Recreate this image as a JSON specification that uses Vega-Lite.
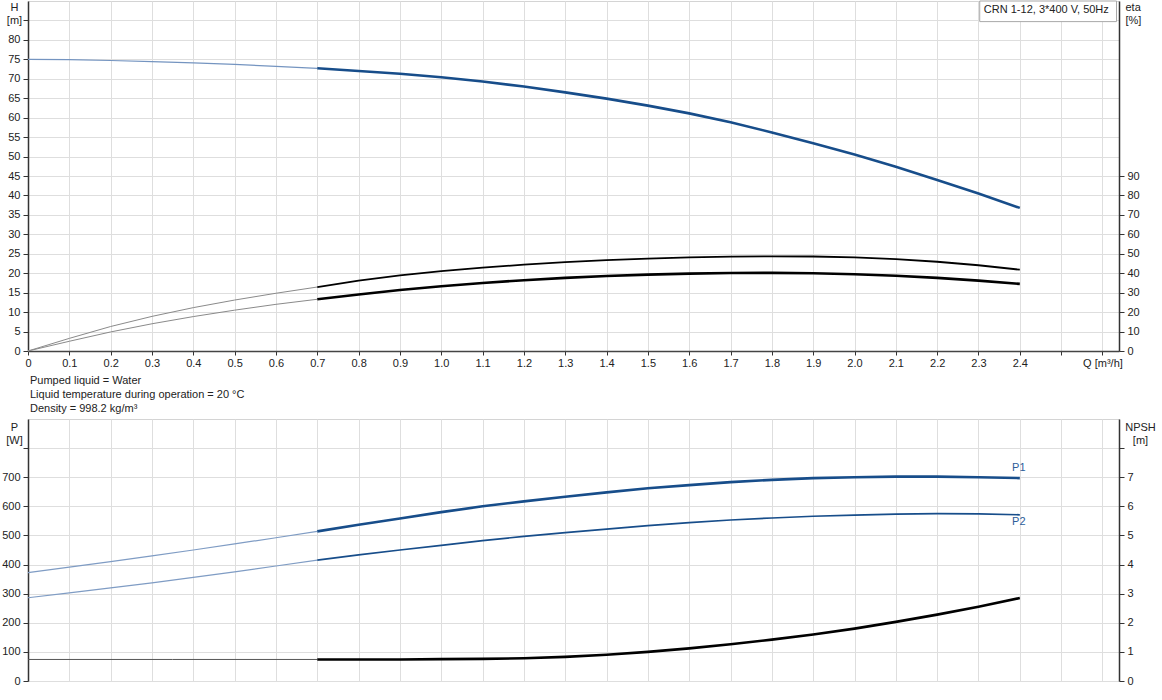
{
  "$schema": "https://vega.github.io/schema/vega-lite/v6.json",
  "padding": {"left": 1, "top": 0, "right": 0, "bottom": 0},
  "spacing": 68,
  "bounds": "flush",
  "config": {
    "font": "Liberation Sans",
    "view": {"stroke": "#d4d4d4"},
    "axis": {
      "labelFont": "Liberation Sans", "labelFontSize": 11, "labelColor": "#222",
      "titleFont": "Liberation Sans", "titleFontSize": 11, "titleFontWeight": "normal", "titleColor": "#222",
      "gridColor": "#dedede", "gridWidth": 1, "tickColor": "#333", "domainColor": "#333",
      "labelOverlap": false, "labelFlush": false
    },
    "text": {"font": "Liberation Sans", "fontWeight": "normal"},
    "title": {"font": "Liberation Sans"}
  },
  "data": {"values": [
    {"c":"H","p":"ext","q":0,"v":75.0},{"c":"H","p":"ext","q":0.1,"v":74.9},{"c":"H","p":"ext","q":0.2,"v":74.7},{"c":"H","p":"ext","q":0.3,"v":74.4},{"c":"H","p":"ext","q":0.4,"v":74.1},{"c":"H","p":"ext","q":0.5,"v":73.7},{"c":"H","p":"ext","q":0.6,"v":73.2},{"c":"H","p":"ext","q":0.7,"v":72.7},
    {"c":"H","p":"op","q":0.7,"v":72.7},{"c":"H","p":"op","q":0.8,"v":72.0},{"c":"H","p":"op","q":0.9,"v":71.3},{"c":"H","p":"op","q":1.0,"v":70.4},{"c":"H","p":"op","q":1.1,"v":69.3},{"c":"H","p":"op","q":1.2,"v":68.0},{"c":"H","p":"op","q":1.3,"v":66.5},{"c":"H","p":"op","q":1.4,"v":64.9},{"c":"H","p":"op","q":1.5,"v":63.1},{"c":"H","p":"op","q":1.6,"v":61.1},{"c":"H","p":"op","q":1.7,"v":58.8},{"c":"H","p":"op","q":1.8,"v":56.2},{"c":"H","p":"op","q":1.9,"v":53.4},{"c":"H","p":"op","q":2.0,"v":50.5},{"c":"H","p":"op","q":2.1,"v":47.4},{"c":"H","p":"op","q":2.2,"v":44.0},{"c":"H","p":"op","q":2.3,"v":40.5},{"c":"H","p":"op","q":2.4,"v":36.8},
    {"c":"eta1","p":"ext","q":0,"v":0},{"c":"eta1","p":"ext","q":0.1,"v":6.5},{"c":"eta1","p":"ext","q":0.2,"v":12.6},{"c":"eta1","p":"ext","q":0.3,"v":17.8},{"c":"eta1","p":"ext","q":0.4,"v":22.3},{"c":"eta1","p":"ext","q":0.5,"v":26.2},{"c":"eta1","p":"ext","q":0.6,"v":29.7},{"c":"eta1","p":"ext","q":0.7,"v":32.9},
    {"c":"eta1","p":"op","q":0.7,"v":32.9},{"c":"eta1","p":"op","q":0.8,"v":36.2},{"c":"eta1","p":"op","q":0.9,"v":38.9},{"c":"eta1","p":"op","q":1.0,"v":41.1},{"c":"eta1","p":"op","q":1.1,"v":42.9},{"c":"eta1","p":"op","q":1.2,"v":44.4},{"c":"eta1","p":"op","q":1.3,"v":45.7},{"c":"eta1","p":"op","q":1.4,"v":46.7},{"c":"eta1","p":"op","q":1.5,"v":47.5},{"c":"eta1","p":"op","q":1.6,"v":48.1},{"c":"eta1","p":"op","q":1.7,"v":48.5},{"c":"eta1","p":"op","q":1.8,"v":48.7},{"c":"eta1","p":"op","q":1.9,"v":48.6},{"c":"eta1","p":"op","q":2.0,"v":48.1},{"c":"eta1","p":"op","q":2.1,"v":47.2},{"c":"eta1","p":"op","q":2.2,"v":45.9},{"c":"eta1","p":"op","q":2.3,"v":44.1},{"c":"eta1","p":"op","q":2.4,"v":41.8},
    {"c":"eta2","p":"ext","q":0,"v":0},{"c":"eta2","p":"ext","q":0.1,"v":5.0},{"c":"eta2","p":"ext","q":0.2,"v":9.8},{"c":"eta2","p":"ext","q":0.3,"v":14.0},{"c":"eta2","p":"ext","q":0.4,"v":17.7},{"c":"eta2","p":"ext","q":0.5,"v":21.0},{"c":"eta2","p":"ext","q":0.6,"v":24.0},{"c":"eta2","p":"ext","q":0.7,"v":26.6},
    {"c":"eta2","p":"op","q":0.7,"v":26.6},{"c":"eta2","p":"op","q":0.8,"v":29.1},{"c":"eta2","p":"op","q":0.9,"v":31.4},{"c":"eta2","p":"op","q":1.0,"v":33.3},{"c":"eta2","p":"op","q":1.1,"v":35.0},{"c":"eta2","p":"op","q":1.2,"v":36.4},{"c":"eta2","p":"op","q":1.3,"v":37.6},{"c":"eta2","p":"op","q":1.4,"v":38.6},{"c":"eta2","p":"op","q":1.5,"v":39.3},{"c":"eta2","p":"op","q":1.6,"v":39.8},{"c":"eta2","p":"op","q":1.7,"v":40.1},{"c":"eta2","p":"op","q":1.8,"v":40.2},{"c":"eta2","p":"op","q":1.9,"v":40.0},{"c":"eta2","p":"op","q":2.0,"v":39.5},{"c":"eta2","p":"op","q":2.1,"v":38.7},{"c":"eta2","p":"op","q":2.2,"v":37.6},{"c":"eta2","p":"op","q":2.3,"v":36.2},{"c":"eta2","p":"op","q":2.4,"v":34.5},
    {"c":"P1","p":"ext","q":0,"v":372},{"c":"P1","p":"ext","q":0.1,"v":391},{"c":"P1","p":"ext","q":0.2,"v":410},{"c":"P1","p":"ext","q":0.3,"v":430},{"c":"P1","p":"ext","q":0.4,"v":450},{"c":"P1","p":"ext","q":0.5,"v":471},{"c":"P1","p":"ext","q":0.6,"v":492},{"c":"P1","p":"ext","q":0.7,"v":514},
    {"c":"P1","p":"op","q":0.7,"v":514},{"c":"P1","p":"op","q":0.8,"v":537},{"c":"P1","p":"op","q":0.9,"v":558},{"c":"P1","p":"op","q":1.0,"v":580},{"c":"P1","p":"op","q":1.1,"v":600},{"c":"P1","p":"op","q":1.2,"v":617},{"c":"P1","p":"op","q":1.3,"v":633},{"c":"P1","p":"op","q":1.4,"v":648},{"c":"P1","p":"op","q":1.5,"v":662},{"c":"P1","p":"op","q":1.6,"v":673},{"c":"P1","p":"op","q":1.7,"v":683},{"c":"P1","p":"op","q":1.8,"v":691},{"c":"P1","p":"op","q":1.9,"v":697},{"c":"P1","p":"op","q":2.0,"v":700},{"c":"P1","p":"op","q":2.1,"v":702},{"c":"P1","p":"op","q":2.2,"v":702},{"c":"P1","p":"op","q":2.3,"v":700},{"c":"P1","p":"op","q":2.4,"v":697},
    {"c":"P2","p":"ext","q":0,"v":286},{"c":"P2","p":"ext","q":0.1,"v":303},{"c":"P2","p":"ext","q":0.2,"v":320},{"c":"P2","p":"ext","q":0.3,"v":337},{"c":"P2","p":"ext","q":0.4,"v":356},{"c":"P2","p":"ext","q":0.5,"v":375},{"c":"P2","p":"ext","q":0.6,"v":395},{"c":"P2","p":"ext","q":0.7,"v":415},
    {"c":"P2","p":"op","q":0.7,"v":415},{"c":"P2","p":"op","q":0.8,"v":433},{"c":"P2","p":"op","q":0.9,"v":450},{"c":"P2","p":"op","q":1.0,"v":466},{"c":"P2","p":"op","q":1.1,"v":482},{"c":"P2","p":"op","q":1.2,"v":497},{"c":"P2","p":"op","q":1.3,"v":510},{"c":"P2","p":"op","q":1.4,"v":522},{"c":"P2","p":"op","q":1.5,"v":534},{"c":"P2","p":"op","q":1.6,"v":544},{"c":"P2","p":"op","q":1.7,"v":553},{"c":"P2","p":"op","q":1.8,"v":560},{"c":"P2","p":"op","q":1.9,"v":566},{"c":"P2","p":"op","q":2.0,"v":570},{"c":"P2","p":"op","q":2.1,"v":573},{"c":"P2","p":"op","q":2.2,"v":575},{"c":"P2","p":"op","q":2.3,"v":574},{"c":"P2","p":"op","q":2.4,"v":571},
    {"c":"NPSH","p":"ext","q":0,"v":0.74},{"c":"NPSH","p":"ext","q":0.35,"v":0.74},{"c":"NPSH","p":"ext","q":0.7,"v":0.74},
    {"c":"NPSH","p":"op","q":0.7,"v":0.74},{"c":"NPSH","p":"op","q":0.8,"v":0.74},{"c":"NPSH","p":"op","q":0.9,"v":0.74},{"c":"NPSH","p":"op","q":1.0,"v":0.75},{"c":"NPSH","p":"op","q":1.1,"v":0.76},{"c":"NPSH","p":"op","q":1.2,"v":0.78},{"c":"NPSH","p":"op","q":1.3,"v":0.83},{"c":"NPSH","p":"op","q":1.4,"v":0.9},{"c":"NPSH","p":"op","q":1.5,"v":1.0},{"c":"NPSH","p":"op","q":1.6,"v":1.12},{"c":"NPSH","p":"op","q":1.7,"v":1.26},{"c":"NPSH","p":"op","q":1.8,"v":1.42},{"c":"NPSH","p":"op","q":1.9,"v":1.6},{"c":"NPSH","p":"op","q":2.0,"v":1.8},{"c":"NPSH","p":"op","q":2.1,"v":2.03},{"c":"NPSH","p":"op","q":2.2,"v":2.28},{"c":"NPSH","p":"op","q":2.3,"v":2.55},{"c":"NPSH","p":"op","q":2.4,"v":2.85}
  ]},
  "vconcat": [
    {
      "width": 1091,
      "height": 350,
      "encoding": {
        "x": {
          "field": "q", "type": "quantitative",
          "scale": {"domain": [0, 2.64], "nice": false, "zero": false},
          "axis": {
            "title": null,
            "values": [0,0.1,0.2,0.3,0.4,0.5,0.6,0.7,0.8,0.9,1.0,1.1,1.2,1.3,1.4,1.5,1.6,1.7,1.8,1.9,2.0,2.1,2.2,2.3,2.4,2.5,2.6],
            "labelExpr": "datum.value == 0 ? '0' : datum.value > 2.55 ? 'Q [m³/h]' : datum.value > 2.45 ? '' : format(datum.value, '.1f')",
            "grid": true, "tickSize": 4, "labelPadding": 2, "domainColor": "#444", "domainWidth": 1.5
          }
        }
      },
      "layer": [
        {
          "encoding": {
            "y": {
              "field": "v", "type": "quantitative",
              "scale": {"domain": [0, 90], "nice": false},
              "axis": {
                "values": [0,5,10,15,20,25,30,35,40,45,50,55,60,65,70,75,80,85],
                "labelExpr": "datum.value > 80 ? '' : datum.label",
                "grid": true, "tickSize": 5, "labelPadding": 3, "domainWidth": 1.5,
                "title": ["H", "[m]"], "titleAngle": 0, "titleAlign": "center", "titleBaseline": "top",
                "titleX": -14, "titleY": 0, "titleLineHeight": 13
              }
            }
          },
          "layer": [
            {"transform": [{"filter": "datum.c == 'H' && datum.p == 'ext'"}], "mark": {"type": "line", "color": "#7494c0", "strokeWidth": 1.2}},
            {"transform": [{"filter": "datum.c == 'H' && datum.p == 'op'"}], "mark": {"type": "line", "color": "#174d8a", "strokeWidth": 2.6}},
            {
              "transform": [{"filter": "datum.c == 'H' && datum.p == 'ext' && datum.q == 0"}],
              "mark": {"type": "rect", "fill": "white", "stroke": "#a8a8a8", "strokeWidth": 1},
              "encoding": {"x": {"datum": 2.303}, "x2": {"datum": 2.634}, "y": {"datum": 90}, "y2": {"datum": 84.7}}
            },
            {
              "transform": [{"filter": "datum.c == 'H' && datum.p == 'ext' && datum.q == 0"}],
              "mark": {"type": "text", "align": "left", "baseline": "middle", "fontSize": 11, "font": "Liberation Sans", "fontWeight": "normal", "color": "#222"},
              "encoding": {"x": {"datum": 2.313}, "y": {"datum": 87.8}, "text": {"value": "CRN 1-12, 3*400 V, 50Hz"}}
            }
          ]
        },
        {
          "encoding": {
            "y": {
              "field": "v", "type": "quantitative",
              "scale": {"domain": [0, 180], "nice": false},
              "axis": {
                "orient": "right",
                "values": [0,10,20,30,40,50,60,70,80,90],
                "grid": false, "tickSize": 5, "labelPadding": 3, "domainWidth": 1.5,
                "title": ["eta", "[%]"], "titleAngle": 0, "titleAlign": "left", "titleBaseline": "top",
                "titleX": 6, "titleY": 0, "titleLineHeight": 13
              }
            }
          },
          "layer": [
            {"transform": [{"filter": "datum.c == 'eta1' && datum.p == 'ext'"}], "mark": {"type": "line", "color": "#8a8a8a", "strokeWidth": 1}},
            {"transform": [{"filter": "datum.c == 'eta1' && datum.p == 'op'"}], "mark": {"type": "line", "color": "#000000", "strokeWidth": 1.8}},
            {"transform": [{"filter": "datum.c == 'eta2' && datum.p == 'ext'"}], "mark": {"type": "line", "color": "#8a8a8a", "strokeWidth": 1}},
            {"transform": [{"filter": "datum.c == 'eta2' && datum.p == 'op'"}], "mark": {"type": "line", "color": "#000000", "strokeWidth": 2.6}}
          ]
        }
      ],
      "resolve": {"scale": {"y": "independent"}, "axis": {"y": "independent"}}
    },
    {
      "width": 1091,
      "height": 262,
      "title": {
        "text": ["Pumped liquid = Water", "Liquid temperature during operation = 20 °C", "Density = 998.2 kg/m³"],
        "anchor": "start", "frame": "group", "fontSize": 11, "fontWeight": "normal", "color": "#222",
        "lineHeight": 14, "offset": 5, "dx": 2
      },
      "encoding": {
        "x": {
          "field": "q", "type": "quantitative",
          "scale": {"domain": [0, 2.64], "nice": false, "zero": false},
          "axis": {
            "title": null,
            "values": [0,0.1,0.2,0.3,0.4,0.5,0.6,0.7,0.8,0.9,1.0,1.1,1.2,1.3,1.4,1.5,1.6,1.7,1.8,1.9,2.0,2.1,2.2,2.3,2.4,2.5,2.6],
            "grid": true, "labels": false, "ticks": false, "domain": false
          }
        }
      },
      "layer": [
        {
          "encoding": {
            "y": {
              "field": "v", "type": "quantitative",
              "scale": {"domain": [0, 900], "nice": false},
              "axis": {
                "values": [0,100,200,300,400,500,600,700,800],
                "labelExpr": "datum.value > 750 ? '' : datum.label",
                "grid": true, "tickSize": 5, "labelPadding": 3, "domainWidth": 1.5,
                "title": ["P", "[W]"], "titleAngle": 0, "titleAlign": "center", "titleBaseline": "top",
                "titleX": -14, "titleY": 2, "titleLineHeight": 13
              }
            }
          },
          "layer": [
            {"transform": [{"filter": "datum.c == 'P1' && datum.p == 'ext'"}], "mark": {"type": "line", "color": "#7f9cc4", "strokeWidth": 1.2}},
            {"transform": [{"filter": "datum.c == 'P1' && datum.p == 'op'"}], "mark": {"type": "line", "color": "#174d8a", "strokeWidth": 2.6}},
            {"transform": [{"filter": "datum.c == 'P2' && datum.p == 'ext'"}], "mark": {"type": "line", "color": "#7f9cc4", "strokeWidth": 1.2}},
            {"transform": [{"filter": "datum.c == 'P2' && datum.p == 'op'"}], "mark": {"type": "line", "color": "#174d8a", "strokeWidth": 1.7}},
            {
              "transform": [{"filter": "datum.c == 'P1' && datum.p == 'op' && datum.q == 2.4"}],
              "mark": {"type": "text", "align": "center", "baseline": "middle", "dy": -10, "dx": -1, "fontSize": 11, "color": "#2d5d99"},
              "encoding": {"text": {"field": "c"}}
            },
            {
              "transform": [{"filter": "datum.c == 'P2' && datum.p == 'op' && datum.q == 2.4"}],
              "mark": {"type": "text", "align": "center", "baseline": "middle", "dy": 7, "dx": -1, "fontSize": 11, "color": "#2d5d99"},
              "encoding": {"text": {"field": "c"}}
            }
          ]
        },
        {
          "encoding": {
            "y": {
              "field": "v", "type": "quantitative",
              "scale": {"domain": [0, 9], "nice": false},
              "axis": {
                "orient": "right",
                "values": [0,1,2,3,4,5,6,7,8],
                "labelExpr": "datum.value > 7.5 ? '' : datum.label",
                "grid": false, "tickSize": 5, "labelPadding": 3, "domainWidth": 1.5,
                "title": ["NPSH", "[m]"], "titleAngle": 0, "titleAlign": "center", "titleBaseline": "top",
                "titleX": 21, "titleY": 2, "titleLineHeight": 13
              }
            }
          },
          "layer": [
            {"transform": [{"filter": "datum.c == 'NPSH' && datum.p == 'ext'"}], "mark": {"type": "line", "color": "#555555", "strokeWidth": 1}},
            {"transform": [{"filter": "datum.c == 'NPSH' && datum.p == 'op'"}], "mark": {"type": "line", "color": "#000000", "strokeWidth": 2.6}}
          ]
        }
      ],
      "resolve": {"scale": {"y": "independent"}, "axis": {"y": "independent"}}
    }
  ]
}
